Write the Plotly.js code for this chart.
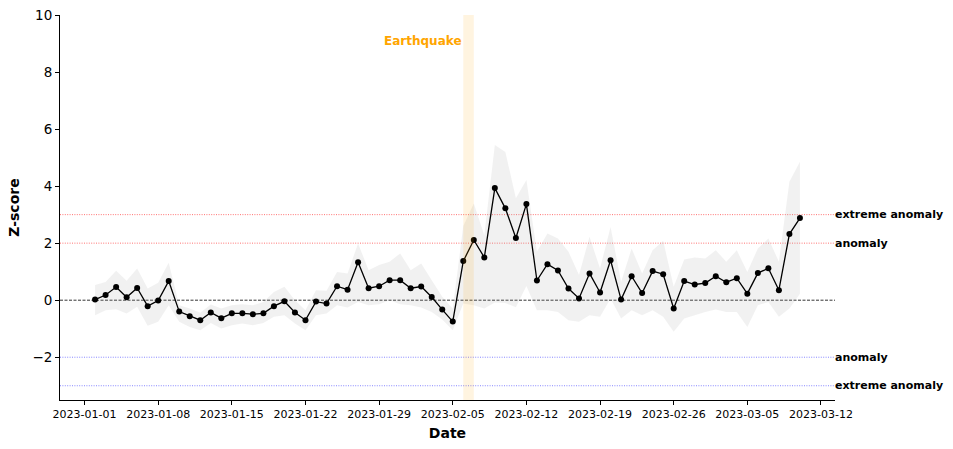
<!DOCTYPE html>
<html>
<head>
<meta charset="utf-8">
<script src="https://cdn.plot.ly/plotly-3.0.1.min.js"></script>
<style>html,body{margin:0;padding:0;background:#fff;}#chart{width:953px;height:449px;}</style>
</head>
<body>
<div id="chart"></div>
<script>
var dates = [
"2023-01-02","2023-01-03","2023-01-04","2023-01-05","2023-01-06","2023-01-07","2023-01-08","2023-01-09","2023-01-10","2023-01-11",
"2023-01-12","2023-01-13","2023-01-14","2023-01-15","2023-01-16","2023-01-17","2023-01-18","2023-01-19","2023-01-20","2023-01-21",
"2023-01-22","2023-01-23","2023-01-24","2023-01-25","2023-01-26","2023-01-27","2023-01-28","2023-01-29","2023-01-30","2023-01-31",
"2023-02-01","2023-02-02","2023-02-03","2023-02-04","2023-02-05","2023-02-06","2023-02-07","2023-02-08","2023-02-09","2023-02-10",
"2023-02-11","2023-02-12","2023-02-13","2023-02-14","2023-02-15","2023-02-16","2023-02-17","2023-02-18","2023-02-19","2023-02-20",
"2023-02-21","2023-02-22","2023-02-23","2023-02-24","2023-02-25","2023-02-26","2023-02-27","2023-02-28","2023-03-01","2023-03-02",
"2023-03-03","2023-03-04","2023-03-05","2023-03-06","2023-03-07","2023-03-08","2023-03-09","2023-03-10"];

var zscore = [
0.02,0.18,0.46,0.10,0.43,-0.21,-0.01,0.67,-0.40,-0.56,
-0.70,-0.43,-0.63,-0.46,-0.46,-0.49,-0.46,-0.21,-0.04,-0.43,
-0.70,-0.05,-0.12,0.49,0.37,1.33,0.42,0.49,0.70,0.70,
0.42,0.48,0.11,-0.33,-0.75,1.37,2.11,1.50,3.93,3.22,
2.18,3.37,0.69,1.26,1.04,0.41,0.06,0.94,0.27,1.40,
0.02,0.84,0.25,1.02,0.91,-0.29,0.67,0.55,0.60,0.84,
0.63,0.77,0.23,0.95,1.12,0.35,2.32,2.88];

var upper = [
0.53,0.64,1.03,0.68,1.11,0.41,0.61,1.31,-0.18,-0.29,
-0.44,-0.15,-0.29,-0.18,-0.14,-0.18,-0.06,0.29,0.47,0.00,
-0.35,0.35,0.33,0.99,0.94,1.99,1.05,1.23,1.35,1.64,
1.05,1.29,0.70,0.12,-0.30,2.60,3.39,2.28,5.44,5.20,
3.57,4.21,1.70,2.34,2.16,1.70,0.88,2.22,1.11,2.57,
0.64,1.81,0.94,1.75,2.08,0.47,1.43,1.50,1.46,1.75,
1.35,1.75,0.99,1.81,2.16,1.35,4.15,4.85];

var lower = [
-0.53,-0.35,-0.32,-0.47,-0.23,-0.90,-0.76,-0.18,-0.76,-0.94,
-1.05,-0.80,-0.99,-0.88,-0.82,-0.88,-0.80,-0.58,-0.53,-0.82,
-1.05,-0.53,-0.47,-0.18,-0.26,-0.06,-0.18,-0.14,0.00,-0.14,
-0.18,-0.26,-0.41,-0.68,-1.05,-0.12,-0.18,-0.29,-0.08,-0.10,
-0.25,0.50,-0.35,-0.35,-0.41,-0.70,-0.76,-0.53,-0.58,0.06,
-0.64,-0.35,-0.53,-0.35,-0.58,-1.11,-0.64,-0.53,-0.41,-0.33,
-0.41,-0.41,-0.94,-0.18,-0.06,-0.58,-0.29,0.23];

var xTickVals = ["2023-01-01","2023-01-08","2023-01-15","2023-01-22","2023-01-29","2023-02-05","2023-02-12","2023-02-19","2023-02-26","2023-03-05","2023-03-12"];
var xTickText = ["2023-01-01","2023-01-08","2023-01-15","2023-01-22","2023-01-29","2023-02-05","2023-02-12","2023-02-19","2023-02-26","2023-03-05","2023-03-12"];
var yTickVals = [-2,0,2,4,6,8,10];
var yTickText = ["\u22122","0","2","4","6","8","10"];

var thresholds = [3,2,-2,-3];
var thresholdLabels = ["extreme anomaly","anomaly","anomaly","extreme anomaly"];
var thresholdColors = ["rgba(255,0,0,0.7)","rgba(255,0,0,0.7)","rgba(0,0,255,0.6)","rgba(0,0,255,0.6)"];

var eventStart = "2023-02-06";
var eventEnd = "2023-02-07";
var eventLabel = "Earthquake";

var font = "DejaVu Sans, sans-serif";

var traces = [
  {x: dates, y: lower, type: "scatter", mode: "lines", line: {width: 0, color: "rgba(0,0,0,0)"}, hoverinfo: "skip", showlegend: false},
  {x: dates, y: upper, type: "scatter", mode: "lines", line: {width: 0, color: "rgba(0,0,0,0)"}, fill: "tonexty", fillcolor: "rgba(160,160,160,0.15)", hoverinfo: "skip", showlegend: false},
  {x: dates, y: zscore, type: "scatter", mode: "lines+markers", line: {color: "black", width: 1.3}, marker: {color: "black", size: 6}, showlegend: false}
];

var shapes = [
  {type: "rect", xref: "x", yref: "paper", x0: eventStart, x1: eventEnd, y0: 0, y1: 1, fillcolor: "rgba(255,165,0,0.12)", line: {width: 0}, layer: "above"},
  {type: "line", xref: "paper", yref: "y", x0: 0, x1: 1, y0: 0, y1: 0, line: {color: "black", width: 0.8, dash: "3px,1.5px"}, layer: "below"}
];
var annotations = [
  {x: eventStart, y: 9.1, xref: "x", yref: "y", text: "<b>" + eventLabel + "</b>", showarrow: false, xanchor: "right", yanchor: "middle", xshift: 1, font: {family: font, size: 12, color: "#FFA500"}}
];
thresholds.forEach(function (t, i) {
  shapes.push({type: "line", xref: "paper", yref: "y", x0: 0, x1: 1, y0: t, y1: t, line: {color: thresholdColors[i], width: 0.8, dash: "1px,1.4px"}, layer: "below"});
  annotations.push({x: 1, y: t, xref: "paper", yref: "y", text: "<b>" + thresholdLabels[i] + "</b>", showarrow: false, xanchor: "left", yanchor: "middle", xshift: -2, font: {family: font, size: 11, color: "black"}});
});

var layout = {
  width: 953, height: 449,
  margin: {l: 60, r: 118, t: 15, b: 49},
  paper_bgcolor: "white", plot_bgcolor: "white",
  font: {family: font, color: "black"},
  showlegend: false,
  xaxis: {
    type: "date",
    range: ["2022-12-29 16:00", "2023-03-13 08:00"],
    tickvals: xTickVals, ticktext: xTickText,
    tickfont: {size: 11, family: font},
    ticks: "outside", ticklen: 4, tickcolor: "black", tickwidth: 1,
    showline: true, linecolor: "black", linewidth: 1,
    showgrid: false, zeroline: false,
    title: {text: "<b>Date</b>", font: {size: 14, family: font}, standoff: 7}
  },
  yaxis: {
    range: [-3.5, 10],
    tickvals: yTickVals, ticktext: yTickText,
    tickfont: {size: 13.5, family: font},
    ticks: "outside", ticklen: 4, tickcolor: "black", tickwidth: 1,
    showline: true, linecolor: "black", linewidth: 1,
    showgrid: false, zeroline: false,
    title: {text: "<b>Z-score</b>", font: {size: 14, family: font}, standoff: 9}
  },
  shapes: shapes,
  annotations: annotations
};

Plotly.newPlot("chart", traces, layout, {displayModeBar: false, staticPlot: true});
</script>
</body>
</html>
